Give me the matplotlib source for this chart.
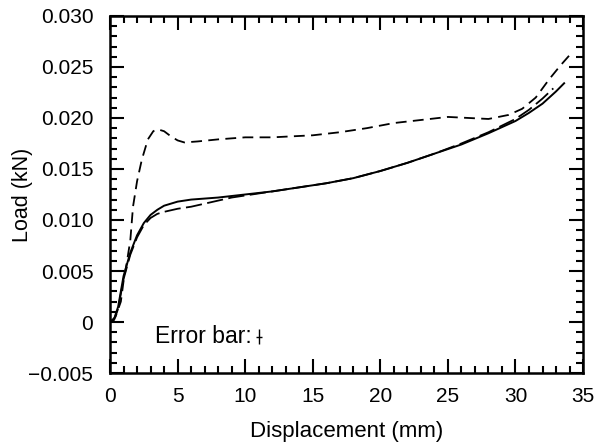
import matplotlib
matplotlib.use("Agg")
import matplotlib.pyplot as plt
from matplotlib.ticker import MultipleLocator, FuncFormatter

plt.rcParams['font.family'] = ['Liberation Sans', 'DejaVu Sans']

# solid curve
solid_x = [0, 0.3, 0.6, 1.0, 1.5, 2.0, 2.5, 3.0, 3.5, 4.0, 5.0, 6.0, 7.0, 8.0, 10.0,
           12.0, 14.0, 16.0, 18.0, 20.0, 22.0, 24.0, 26.0, 28.0, 30.0, 31.0, 32.0, 33.0, 33.6]
solid_y = [0, 0.0003, 0.0015, 0.0045, 0.0068, 0.0085, 0.0097, 0.0105, 0.0110, 0.0114,
           0.0118, 0.0120, 0.0121, 0.0122, 0.0125, 0.0128, 0.0132, 0.0136, 0.0141,
           0.0148, 0.0156, 0.0165, 0.0174, 0.0185, 0.0197, 0.0205, 0.0214, 0.0226, 0.0234]

# long-dashed curve (close to solid)
mid_x = [0, 0.3, 0.6, 1.0, 1.5, 2.0, 2.5, 3.0, 3.5, 4.0, 5.0, 6.0, 7.0, 8.0, 9.0, 10.0,
         12.0, 14.0, 16.0, 18.0, 20.0, 22.0, 24.0, 26.0, 28.0, 30.0, 31.0, 32.0, 32.8]
mid_y = [0, 0.0002, 0.0013, 0.0042, 0.0066, 0.0083, 0.0095, 0.0102, 0.0106, 0.0108,
         0.0111, 0.0113, 0.0116, 0.0119, 0.0122, 0.0124, 0.0128, 0.0132, 0.0136,
         0.0141, 0.0148, 0.0156, 0.0165, 0.0175, 0.0186, 0.0199, 0.0208, 0.0219, 0.0229]

# dashed curve (upper)
top_x = [0, 0.4, 0.8, 1.0, 1.2, 1.5, 1.7, 2.0, 2.35, 2.8, 3.2, 3.5, 4.0, 4.5, 5.0, 5.5,
         6.5, 8.0, 10.0, 12.0, 15.0, 17.0, 19.0, 21.0, 23.0, 25.0, 26.5, 28.0, 29.5,
         30.5, 31.5, 32.5, 33.3, 34.1]
top_y = [0, 0.0005, 0.002, 0.004, 0.0055, 0.008, 0.0113, 0.0138, 0.0159, 0.0179,
         0.0187, 0.0189, 0.0187, 0.0182, 0.0178, 0.0176, 0.0177, 0.0179, 0.0181,
         0.0181, 0.0183, 0.0186, 0.0190, 0.0195, 0.0198, 0.0201, 0.0200, 0.0199,
         0.0203, 0.0209, 0.0220, 0.0238, 0.0251, 0.0263]

fig = plt.figure(figsize=(5.98, 4.42), dpi=100)
ax = fig.add_axes([0.184, 0.156, 0.791, 0.808])

ax.plot(solid_x, solid_y, color='black', lw=1.4)
ax.plot(mid_x, mid_y, color='black', lw=1.3, dashes=(9, 3))
ax.plot(top_x, top_y, color='black', lw=1.3, dashes=(6, 3.5))

ax.set_xlim(0, 35)
ax.set_ylim(-0.005, 0.030)
ax.xaxis.set_major_locator(MultipleLocator(5))
ax.xaxis.set_minor_locator(MultipleLocator(1))
ax.yaxis.set_major_locator(MultipleLocator(0.005))
ax.yaxis.set_minor_locator(MultipleLocator(0.001))


def yfmt(v, pos):
    if abs(v) < 1e-9:
        return '0'
    return f'{v:.3f}'.replace('-', '\u2212')


ax.yaxis.set_major_formatter(FuncFormatter(yfmt))
ax.tick_params(which='both', direction='in', top=True, right=True, labelsize=15, width=1.5)
ax.tick_params(which='major', length=10)
ax.tick_params(which='minor', length=5)
ax.tick_params(axis='x', which='major', pad=10)
ax.tick_params(axis='y', which='major', pad=12)
for s in ax.spines.values():
    s.set_linewidth(1.8)

ax.set_xlabel('Displacement (mm)', fontsize=16)
ax.set_ylabel('Load (kN)', fontsize=15.5)
ax.xaxis.set_label_coords(0.5, -0.134)
ax.yaxis.set_label_coords(-0.163, 0.5)

# error bar legend
ax.text(0.095, 0.102, 'Error bar:', transform=ax.transAxes, fontsize=16.5, va='center', ha='left')
ax.errorbar([0.315], [0.101], yerr=[0.021], fmt='_', color='black', ms=5, mew=1.0,
            elinewidth=1.0, capsize=0, transform=ax.transAxes, clip_on=False)

fig.savefig('out.png', dpi=100)
